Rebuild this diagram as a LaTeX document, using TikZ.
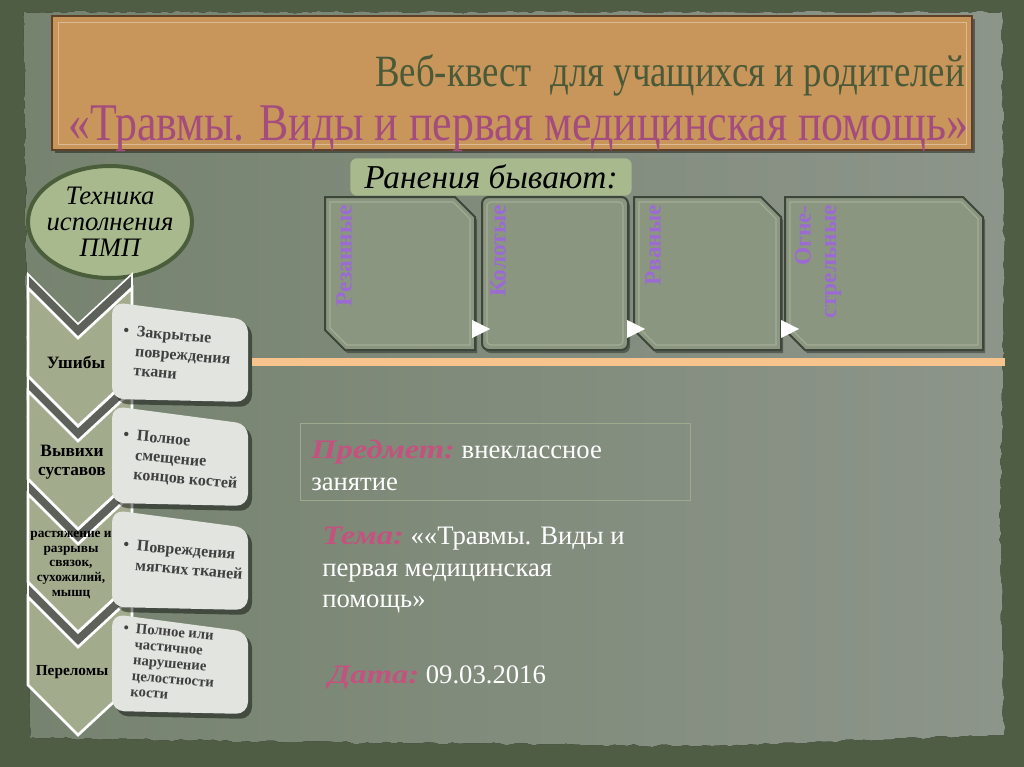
\documentclass[tikz,border=0pt]{standalone}
\usepackage{fontspec}
\setmainfont{Liberation Serif}
\usepackage{graphicx}
\usetikzlibrary{shapes.geometric,decorations.pathmorphing}

\definecolor{framegreen}{HTML}{4F5D45}
\definecolor{paperleft}{HTML}{76836F}
\definecolor{paperright}{HTML}{8D958A}
\definecolor{titletan}{HTML}{C8955B}
\definecolor{tanedge}{HTML}{5E4128}
\definecolor{titlegreen}{HTML}{4A5A39}
\definecolor{titlepink}{HTML}{A34C7D}
\definecolor{sage}{HTML}{A8B98E}
\definecolor{sagedark}{HTML}{4B5E3C}
\definecolor{chevfill}{HTML}{A2AC8D}
\definecolor{bandgrey}{HTML}{5C6259}
\definecolor{boxfill}{HTML}{E2E4E0}
\definecolor{cardfill}{HTML}{8A967F}
\definecolor{cardedge}{HTML}{3E453A}
\definecolor{cardline}{HTML}{A3AD97}
\definecolor{cardviolet}{HTML}{9B6BD3}
\definecolor{stripe}{HTML}{F7C48E}
\definecolor{rose}{HTML}{C4517E}

\newcommand{\infotag}[1]{\textcolor{rose}{\scalebox{1.22}[1]{\bfseries\itshape #1}}}

\begin{document}
\begin{tikzpicture}[x=0.75pt,y=-0.75pt,
    chevron/.style={fill=chevfill,draw=white,line width=2pt},
    band/.style={fill=bandgrey,draw=white,line width=1.2pt},
    itembox/.style={fill=boxfill,rounded corners=9pt},
    itemshadow/.style={fill=black,opacity=0.45,rounded corners=9pt},
    itemtext/.style={anchor=north west,inner sep=0pt,text=black!75,rotate=-5,
        font=\bfseries\fontsize{12}{14.5}\selectfont},
    chevtext/.style={align=center,inner sep=0pt,font=\bfseries\fontsize{13}{14}\selectfont},
    card/.style={fill=cardfill,draw=cardedge,line width=1.5pt},
    cardinner/.style={draw=cardline,line width=0.8pt},
    cardshadow/.style={fill=black,opacity=0.35},
    cardlabel/.style={rotate=90,anchor=north east,align=right,inner sep=0pt,
        text=cardviolet,font=\bfseries\fontsize{17.5}{19}\selectfont},
    pointer/.style={fill=white},
    info/.style={anchor=north west,align=left,inner sep=0pt,text=white,
        font=\fontsize{20}{23.5}\selectfont}]

% background and paper
\fill[framegreen] (0,0) rectangle (1024,767);
\fill[left color=paperleft,right color=paperright,decorate,
      decoration={random steps,segment length=5pt,amplitude=1pt}]
  (24,12) -- (1002,12) -- (1004,300) -- (1000,520) -- (1004,735)
  -- (700,746) -- (300,742) -- (30,738) -- cycle;

% title
\fill[black,opacity=0.4] (55,19) rectangle (975,153);
\draw[fill=titletan,draw=tanedge,line width=1.2pt] (52,16) rectangle (972,150);
\draw[titletan!65!white,line width=0.6pt] (58,22) rectangle (966,144);
\node[anchor=base east,inner sep=0pt,text=titlegreen] (titleA) at (965,87)
  {\resizebox{442pt}{24pt}{Веб-квест\ \ для учащихся и родителей}};
\node[anchor=base west,inner sep=0pt,text=titlepink] (titleB) at (68,140)
  {\resizebox{675pt}{26pt}{«Травмы. Виды и первая медицинская помощь»}};

% left ellipse
\draw[fill=sage,draw=sagedark,line width=3pt] (110,222) ellipse [x radius=61.5pt,y radius=42pt];
\node[align=center,inner sep=0pt,font=\itshape\fontsize{20}{19.5}\selectfont]
  (technique) at (110,222) {Техника\\исполнения\\ПМП};

% chevrons
\foreach \t in {288,391,494,597} {
  \draw[band] (28,\t-14) -- (78,\t+36) -- (132,\t-14) -- (132,\t)
    -- (78,\t+50) -- (28,\t) -- cycle;
  \draw[chevron] (28,\t) -- (78,\t+50) -- (132,\t) -- (132,\t+88)
    -- (78,\t+138) -- (28,\t+88) -- cycle;
}

% item boxes
\foreach \d in {0,104,208,312} {
  \fill[itemshadow] (116,306+\d) -- (252,324+\d) -- (252,407+\d) -- (116,404+\d) -- cycle;
  \fill[itembox] (112,302+\d) -- (248,320+\d) -- (248,402+\d) -- (112,399+\d) -- cycle;
}

\node[chevtext] (bruise) at (76,362) {Ушибы};
\node[chevtext] (disloc) at (72,462) {Вывихи\\суставов};
\node[chevtext,font=\bfseries\fontsize{10}{11}\selectfont] (sprain) at (71,565)
  {растяжение и\\разрывы\\связок,\\сухожилий,\\мышц};
\node[chevtext,font=\bfseries\fontsize{11.5}{12}\selectfont] (fracture) at (72,672) {Переломы};

\node[itemtext] (bruisetext) at (124,322)
  {\begin{tabular}{@{}l@{\ \ }l@{}}•&Закрытые\\&повреждения\\&ткани\end{tabular}};
\node[itemtext] (disloctext) at (124,426)
  {\begin{tabular}{@{}l@{\ \ }l@{}}•&Полное\\&смещение\\&концов костей\end{tabular}};
\node[itemtext] (sprintext) at (124,536)
  {\begin{tabular}{@{}l@{\ \ }l@{}}•&Повреждения\\&мягких тканей\end{tabular}};
\node[itemtext,font=\bfseries\fontsize{11}{11.8}\selectfont] (fracttext) at (124,621)
  {\begin{tabular}{@{}l@{\ \ }l@{}}•&Полное или\\&частичное\\&нарушение\\&целостности\\&кости\end{tabular}};

% wounds header
\node[fill=sage,rounded corners=5pt,minimum width=211pt,minimum height=28pt,
      inner sep=0pt] (woundsbox) at (491,177)
  {\resizebox{190pt}{!}{\itshape Ранения бывают:}};

% wound cards
\foreach \a/\b in {325/475,634/781,785/983} {
  \fill[cardshadow] (\a+2,200) -- (\b-18,200) -- (\b+2,220) -- (\b+2,353)
    -- (\a+22,353) -- (\a+2,333) -- cycle;
  \draw[card] (\a,197) -- (\b-20,197) -- (\b,217) -- (\b,350)
    -- (\a+20,350) -- (\a,330) -- cycle;
  \draw[cardinner] (\a+5,202) -- (\b-22,202) -- (\b-5,219) -- (\b-5,345)
    -- (\a+22,345) -- (\a+5,328) -- cycle;
}
\fill[cardshadow,rounded corners=5pt] (484,200) rectangle (630,353);
\draw[card,rounded corners=5pt] (482,197) rectangle (628,350);
\draw[cardinner,rounded corners=3pt] (487,202) rectangle (623,345);

\node[cardlabel] (cut) at (336,205) {Резанные};
\node[cardlabel] (stab) at (490,205) {Колотые};
\node[cardlabel] (torn) at (645,205) {Рваные};
\node[cardlabel] (gunshot) at (795,205) {Огне-\\стрельные};

\fill[pointer] (472,320) -- (490,329) -- (472,338) -- cycle;
\fill[pointer] (627,320) -- (645,329) -- (627,338) -- cycle;
\fill[pointer] (781,320) -- (799,329) -- (781,338) -- cycle;

% orange stripe
\draw[stripe,line width=5.5pt] (252,362) -- (1005,362);

% lesson info
\draw[draw=sage!60!paperright,line width=0.6pt] (300,423) rectangle (690,500);
\node[info] (subject) at (311,440)
  {\infotag{Предмет:} внеклассное\\занятие};
\node[info] (topic) at (322,527)
  {\infotag{Тема:} ««Травмы. Виды и\\первая медицинская\\помощь»};
\node[info] (date) at (328,665)
  {\infotag{Дата:} 09.03.2016};
\end{tikzpicture}
\end{document}
